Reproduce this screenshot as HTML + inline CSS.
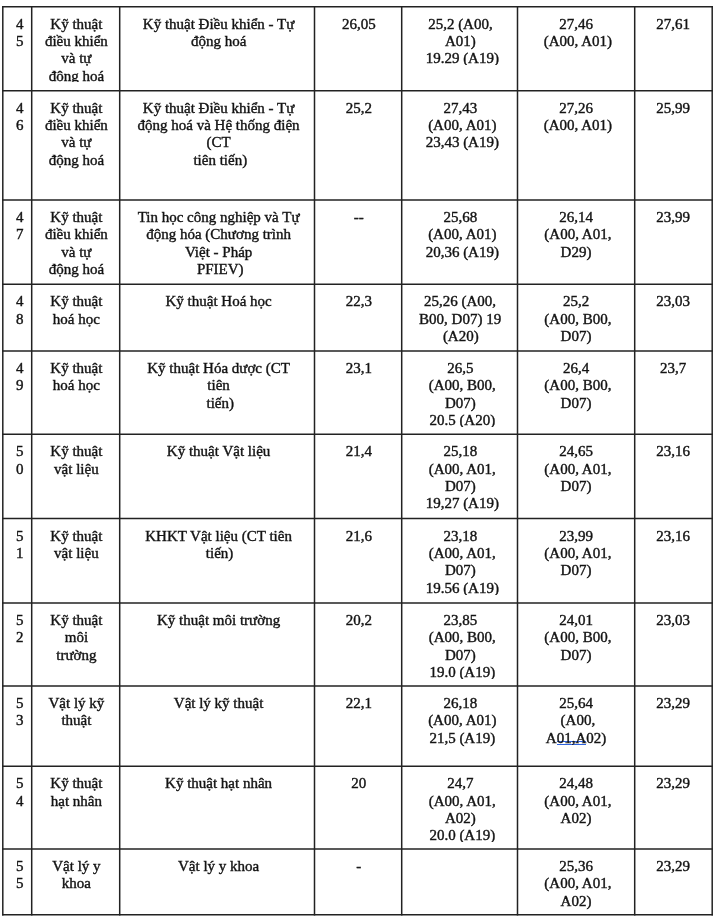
<!DOCTYPE html>
<html lang="vi">
<head>
<meta charset="utf-8">
<title>Bảng điểm chuẩn</title>
<style>
html,body{margin:0;padding:0;background:#fff;}
body{width:720px;height:924px;position:relative;overflow:hidden;font-family:"Liberation Serif","Times New Roman",serif;font-size:15px;line-height:17.35px;color:#141414;-webkit-text-stroke:0.4px #141414;}
#grid{position:absolute;left:0;top:0;}
.c{position:absolute;overflow:hidden;text-align:center;white-space:nowrap;}
.k{display:inline-block;vertical-align:top;height:15px;overflow:hidden;}
.k2{height:14px;}
.c u{text-decoration:none;background:linear-gradient(#2f63dd,#2f63dd) 0 10.8px/100% 1.2px no-repeat,linear-gradient(#2f63dd,#2f63dd) 0 14.3px/100% 1.2px no-repeat;}
</style>
</head>
<body>
<svg id="grid" width="720" height="924" viewBox="0 0 720 924"><g stroke="#222" stroke-width="1.5" fill="none" stroke-linecap="square"><line x1="2.8" y1="6.7" x2="712.2" y2="6.7"/><line x1="2.8" y1="90.8" x2="712.2" y2="90.8"/><line x1="2.8" y1="200.1" x2="712.2" y2="200.1"/><line x1="2.8" y1="284.3" x2="712.2" y2="284.3"/><line x1="2.8" y1="351.0" x2="712.2" y2="351.0"/><line x1="2.8" y1="434.3" x2="712.2" y2="434.3"/><line x1="2.8" y1="518.6" x2="712.2" y2="518.6"/><line x1="2.8" y1="603.0" x2="712.2" y2="603.0"/><line x1="2.8" y1="686.1" x2="712.2" y2="686.1"/><line x1="2.8" y1="766.2" x2="712.2" y2="766.2"/><line x1="2.8" y1="849.0" x2="712.2" y2="849.0"/><line x1="2.8" y1="914.8" x2="712.2" y2="914.8"/><line x1="2.8" y1="6.7" x2="2.8" y2="914.8"/><line x1="31.7" y1="6.7" x2="31.7" y2="914.8"/><line x1="119.7" y1="6.7" x2="119.7" y2="914.8"/><line x1="314.5" y1="6.7" x2="314.5" y2="914.8"/><line x1="401.7" y1="6.7" x2="401.7" y2="914.8"/><line x1="517.5" y1="6.7" x2="517.5" y2="914.8"/><line x1="634.7" y1="6.7" x2="634.7" y2="914.8"/><line x1="712.2" y1="6.7" x2="712.2" y2="914.8"/></g></svg>
<div class="c" style="left:5.2px;top:15.7px;width:28.9px;height:73.1px">4<br>5</div>
<div class="c" style="left:32.4px;top:15.7px;width:88.0px;height:73.1px">Kỹ thuật<br>điều khiển<br>và tự<br><span class="k k2">động hoá</span></div>
<div class="c" style="left:121.2px;top:15.7px;width:194.8px;height:73.1px">Kỹ thuật Điều khiển - Tự<br>động hoá</div>
<div class="c" style="left:315.2px;top:15.7px;width:87.2px;height:73.1px">26,05</div>
<div class="c" style="left:404.4px;top:15.7px;width:115.8px;height:73.1px">25,2 (A00,&nbsp;<br>A01)&nbsp;<br><span class="k">19.29 (A19)</span></div>
<div class="c" style="left:519.3px;top:15.7px;width:117.2px;height:73.1px">27,46&nbsp;<br>(A00, A01)</div>
<div class="c" style="left:634.4px;top:15.7px;width:77.5px;height:73.1px">27,61</div>
<div class="c" style="left:5.2px;top:99.8px;width:28.9px;height:98.3px">4<br>6</div>
<div class="c" style="left:32.4px;top:99.8px;width:88.0px;height:98.3px">Kỹ thuật<br>điều khiển<br>và tự<br>động hoá</div>
<div class="c" style="left:121.2px;top:99.8px;width:194.8px;height:98.3px">Kỹ thuật Điều khiển - Tự<br>động hoá và Hệ thống điện<br>(CT<br><span style="padding-left:3.4px">tiên tiến)</span></div>
<div class="c" style="left:315.2px;top:99.8px;width:87.2px;height:98.3px">25,2</div>
<div class="c" style="left:404.4px;top:99.8px;width:115.8px;height:98.3px">27,43&nbsp;<br>(A00, A01)<br>23,43 (A19)</div>
<div class="c" style="left:519.3px;top:99.8px;width:117.2px;height:98.3px">27,26&nbsp;<br>(A00, A01)</div>
<div class="c" style="left:634.4px;top:99.8px;width:77.5px;height:98.3px">25,99</div>
<div class="c" style="left:5.2px;top:209.1px;width:28.9px;height:73.2px">4<br>7</div>
<div class="c" style="left:32.4px;top:209.1px;width:88.0px;height:73.2px">Kỹ thuật<br>điều khiển<br>và tự<br>động hoá</div>
<div class="c" style="left:121.2px;top:209.1px;width:194.8px;height:73.2px">Tin học công nghiệp và Tự<br>động hóa (Chương trình<br>Việt - Pháp<br><span style="padding-left:3.4px">PFIEV)</span></div>
<div class="c" style="left:315.2px;top:209.1px;width:87.2px;height:73.2px">--</div>
<div class="c" style="left:404.4px;top:209.1px;width:115.8px;height:73.2px">25,68&nbsp;<br>(A00, A01)<br>20,36 (A19)</div>
<div class="c" style="left:519.3px;top:209.1px;width:117.2px;height:73.2px">26,14&nbsp;<br>(A00, A01,<br>D29)&nbsp;</div>
<div class="c" style="left:634.4px;top:209.1px;width:77.5px;height:73.2px">23,99</div>
<div class="c" style="left:5.2px;top:293.3px;width:28.9px;height:55.7px">4<br>8</div>
<div class="c" style="left:32.4px;top:293.3px;width:88.0px;height:55.7px">Kỹ thuật<br>hoá học</div>
<div class="c" style="left:121.2px;top:293.3px;width:194.8px;height:55.7px">Kỹ thuật Hoá học</div>
<div class="c" style="left:315.2px;top:293.3px;width:87.2px;height:55.7px">22,3</div>
<div class="c" style="left:404.4px;top:293.3px;width:115.8px;height:55.7px"><span style="padding-right:4.4px">25,26 (A00,</span><br><span style="padding-right:4.4px">B00, D07) 19</span><br><span style="padding-right:3.0px">(A20)</span></div>
<div class="c" style="left:519.3px;top:293.3px;width:117.2px;height:55.7px">25,2&nbsp;<br>(A00, B00,<br>D07)&nbsp;</div>
<div class="c" style="left:634.4px;top:293.3px;width:77.5px;height:55.7px">23,03</div>
<div class="c" style="left:5.2px;top:360.0px;width:28.9px;height:72.3px">4<br>9</div>
<div class="c" style="left:32.4px;top:360.0px;width:88.0px;height:72.3px">Kỹ thuật<br>hoá học</div>
<div class="c" style="left:121.2px;top:360.0px;width:194.8px;height:72.3px">Kỹ thuật Hóa dược (CT<br>tiên<br><span style="padding-left:3.4px">tiến)</span></div>
<div class="c" style="left:315.2px;top:360.0px;width:87.2px;height:72.3px">23,1</div>
<div class="c" style="left:404.4px;top:360.0px;width:115.8px;height:72.3px">26,5&nbsp;<br>(A00, B00,<br>D07)&nbsp;<br><span class="k">20.5 (A20)</span></div>
<div class="c" style="left:519.3px;top:360.0px;width:117.2px;height:72.3px">26,4&nbsp;<br>(A00, B00,<br>D07)&nbsp;</div>
<div class="c" style="left:634.4px;top:360.0px;width:77.5px;height:72.3px">23,7</div>
<div class="c" style="left:5.2px;top:443.3px;width:28.9px;height:73.3px">5<br>0</div>
<div class="c" style="left:32.4px;top:443.3px;width:88.0px;height:73.3px">Kỹ thuật<br>vật liệu</div>
<div class="c" style="left:121.2px;top:443.3px;width:194.8px;height:73.3px">Kỹ thuật Vật liệu</div>
<div class="c" style="left:315.2px;top:443.3px;width:87.2px;height:73.3px">21,4</div>
<div class="c" style="left:404.4px;top:443.3px;width:115.8px;height:73.3px">25,18&nbsp;<br>(A00, A01,<br>D07)&nbsp;<br>19,27 (A19)</div>
<div class="c" style="left:519.3px;top:443.3px;width:117.2px;height:73.3px">24,65&nbsp;<br>(A00, A01,<br>D07)&nbsp;</div>
<div class="c" style="left:634.4px;top:443.3px;width:77.5px;height:73.3px">23,16</div>
<div class="c" style="left:5.2px;top:527.6px;width:28.9px;height:73.4px">5<br>1</div>
<div class="c" style="left:32.4px;top:527.6px;width:88.0px;height:73.4px">Kỹ thuật<br>vật liệu</div>
<div class="c" style="left:121.2px;top:527.6px;width:194.8px;height:73.4px">KHKT Vật liệu (CT tiên<br><span style="padding-left:2.0px">tiến)</span></div>
<div class="c" style="left:315.2px;top:527.6px;width:87.2px;height:73.4px">21,6</div>
<div class="c" style="left:404.4px;top:527.6px;width:115.8px;height:73.4px">23,18&nbsp;<br>(A00, A01,<br>D07)&nbsp;<br><span class="k">19.56 (A19)</span></div>
<div class="c" style="left:519.3px;top:527.6px;width:117.2px;height:73.4px">23,99&nbsp;<br>(A00, A01,<br>D07)&nbsp;</div>
<div class="c" style="left:634.4px;top:527.6px;width:77.5px;height:73.4px">23,16</div>
<div class="c" style="left:5.2px;top:612.0px;width:28.9px;height:72.1px">5<br>2</div>
<div class="c" style="left:32.4px;top:612.0px;width:88.0px;height:72.1px">Kỹ thuật<br>môi<br>trường</div>
<div class="c" style="left:121.2px;top:612.0px;width:194.8px;height:72.1px">Kỹ thuật môi trường</div>
<div class="c" style="left:315.2px;top:612.0px;width:87.2px;height:72.1px">20,2</div>
<div class="c" style="left:404.4px;top:612.0px;width:115.8px;height:72.1px">23,85&nbsp;<br>(A00, B00,<br>D07)&nbsp;<br><span class="k">19.0 (A19)</span></div>
<div class="c" style="left:519.3px;top:612.0px;width:117.2px;height:72.1px">24,01&nbsp;<br>(A00, B00,<br>D07)&nbsp;</div>
<div class="c" style="left:634.4px;top:612.0px;width:77.5px;height:72.1px">23,03</div>
<div class="c" style="left:5.2px;top:695.1px;width:28.9px;height:69.1px">5<br>3</div>
<div class="c" style="left:32.4px;top:695.1px;width:88.0px;height:69.1px">Vật lý kỹ<br>thuật</div>
<div class="c" style="left:121.2px;top:695.1px;width:194.8px;height:69.1px">Vật lý kỹ thuật</div>
<div class="c" style="left:315.2px;top:695.1px;width:87.2px;height:69.1px">22,1</div>
<div class="c" style="left:404.4px;top:695.1px;width:115.8px;height:69.1px">26,18&nbsp;<br>(A00, A01)<br>21,5 (A19)</div>
<div class="c" style="left:519.3px;top:695.1px;width:117.2px;height:69.1px">25,64&nbsp;<br>(A00,<br>A<u>01,A</u>02)&nbsp;</div>
<div class="c" style="left:634.4px;top:695.1px;width:77.5px;height:69.1px">23,29</div>
<div class="c" style="left:5.2px;top:775.2px;width:28.9px;height:71.8px">5<br>4</div>
<div class="c" style="left:32.4px;top:775.2px;width:88.0px;height:71.8px">Kỹ thuật<br>hạt nhân</div>
<div class="c" style="left:121.2px;top:775.2px;width:194.8px;height:71.8px">Kỹ thuật hạt nhân</div>
<div class="c" style="left:315.2px;top:775.2px;width:87.2px;height:71.8px">20</div>
<div class="c" style="left:404.4px;top:775.2px;width:115.8px;height:71.8px">24,7&nbsp;<br>(A00, A01,<br>A02)&nbsp;<br><span class="k">20.0 (A19)</span></div>
<div class="c" style="left:519.3px;top:775.2px;width:117.2px;height:71.8px">24,48&nbsp;<br>(A00, A01,<br>A02)&nbsp;</div>
<div class="c" style="left:634.4px;top:775.2px;width:77.5px;height:71.8px">23,29</div>
<div class="c" style="left:5.2px;top:858.0px;width:28.9px;height:54.8px">5<br>5</div>
<div class="c" style="left:32.4px;top:858.0px;width:88.0px;height:54.8px">Vật lý y<br>khoa</div>
<div class="c" style="left:121.2px;top:858.0px;width:194.8px;height:54.8px">Vật lý y khoa</div>
<div class="c" style="left:315.2px;top:858.0px;width:87.2px;height:54.8px">-</div>
<div class="c" style="left:519.3px;top:858.0px;width:117.2px;height:54.8px">25,36&nbsp;<br>(A00, A01,<br>A02)&nbsp;</div>
<div class="c" style="left:634.4px;top:858.0px;width:77.5px;height:54.8px">23,29</div>
</body>
</html>
